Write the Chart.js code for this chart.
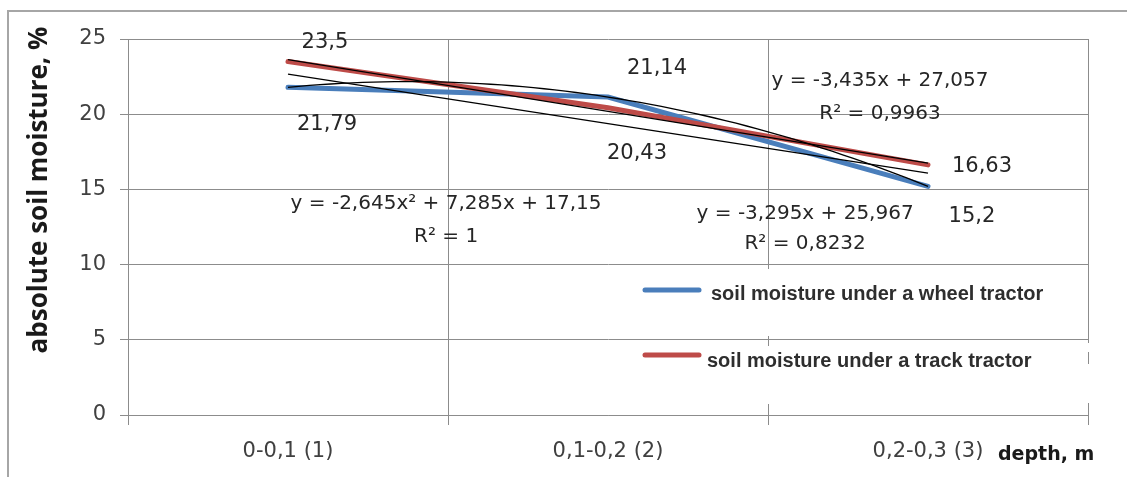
<!DOCTYPE html>
<html><head><meta charset="utf-8">
<script src="https://cdn.jsdelivr.net/npm/chart.js@4/dist/chart.umd.min.js"></script>
<style>html,body{margin:0;padding:0;background:#fff}#wrap{position:relative;width:1127px;height:477px}</style>
</head><body><div id="wrap"><canvas id="c" width="1127" height="477"></canvas></div>
<script>
// ---- data ----
const categories = ['0-0,1 (1)', '0,1-0,2 (2)', '0,2-0,3 (3)'];
const wheelValues = [21.79, 21.14, 15.2];
const trackValues = [23.5, 20.43, 16.63];
const yTickStep = 5, yMin = 0, yMax = 25;
const seriesNames = ['soil moisture under a wheel tractor', 'soil moisture under a track tractor'];
const wheelLabels = ['21,79', '21,14', '15,2'];
const trackLabels = ['23,5', '20,43', '16,63'];
const wheelPolyEq = ['y = -2,645x² + 7,285x + 17,15', 'R² = 1'];
const wheelLinEq = ['y = -3,295x + 25,967', 'R² = 0,8232'];
const trackLinEq = ['y = -3,435x + 27,057', 'R² = 0,9963'];
const xTitle = 'depth, m';
const yTitle = 'absolute soil moisture, %';

// ---- trendlines (least squares fits of the series, as in the source chart) ----
const xs = categories.map((_, i) => i + 1);
function polyFit(x, y, deg) {
  const n = deg + 1, A = [], B = [];
  for (let r = 0; r < n; r++) {
    A.push([]);
    for (let c = 0; c < n; c++) A[r].push(x.reduce((t, v) => t + Math.pow(v, r + c), 0));
    B.push(x.reduce((t, v, i) => t + Math.pow(v, r) * y[i], 0));
  }
  for (let i = 0; i < n; i++) {
    for (let k = i + 1; k < n; k++) {
      const f = A[k][i] / A[i][i];
      for (let j = i; j < n; j++) A[k][j] -= f * A[i][j];
      B[k] -= f * B[i];
    }
  }
  const coef = new Array(n).fill(0);
  for (let i = n - 1; i >= 0; i--) {
    let s = B[i];
    for (let j = i + 1; j < n; j++) s -= A[i][j] * coef[j];
    coef[i] = s / A[i][i];
  }
  return coef;
}
function evalPoly(c, x) { return c.reduce((t, v, i) => t + v * Math.pow(x, i), 0); }
function trendPoints(coef, steps) {
  const pts = [], x0 = xs[0], x1 = xs[xs.length - 1];
  for (let k = 0; k <= steps; k++) { const x = x0 + (x1 - x0) * k / steps; pts.push({x, y: evalPoly(coef, x)}); }
  return pts;
}
const wheelPoly = trendPoints(polyFit(xs, wheelValues, 2), 60);
const wheelLin = trendPoints(polyFit(xs, wheelValues, 1), 1);
const trackLin = trendPoints(polyFit(xs, trackValues, 1), 1);

// ---- styling ----
const BLUE = '#4a7ebb', RED = '#be4b48', GRID = '#8c8c8c', TXT = '#404040';
const numFont = {family: 'DejaVu Sans', size: 21};
const labelOffsets = { wheel: [[39, 37], [49, -29], [44, 30]], track: [[37, -19], [29, 46], [54, 2]] };
const eqAnchors = [
  {lines: wheelPolyEq, x: 1.494, y: 14.05, gap: 33},
  {lines: trackLinEq, x: 2.85, y: 22.22, gap: 33},
  {lines: wheelLinEq, x: 2.616, y: 13.4, gap: 30}
];

const decor = {
  id: 'decor',
  beforeDraw(chart) {
    const c = chart.ctx;
    c.save();
    c.strokeStyle = '#a6a6a6'; c.lineWidth = 2;
    c.beginPath(); c.moveTo(8, 477); c.lineTo(8, 11); c.lineTo(1127, 11); c.stroke();
    c.restore();
  },
  beforeDatasetsDraw(chart) {
    // legend box hides part of the vertical gridlines
    const c = chart.ctx, x = chart.scales.x2;
    c.save(); c.fillStyle = '#fff';
    const g = x.getPixelForValue(2.5);
    c.fillRect(g - 3, 269, 6, 67); c.fillRect(g - 3, 346, 6, 58);
    const r = x.getPixelForValue(3.5);
    c.fillRect(r - 3, 343, 6, 9); c.fillRect(r - 3, 364, 6, 39);
    c.restore();
  },
  afterDraw(chart) {
    const c = chart.ctx, x = chart.scales.x, x2 = chart.scales.x2, y = chart.scales.y;
    c.save();
    c.fillStyle = '#262626'; c.font = '21px "DejaVu Sans"'; c.textAlign = 'center'; c.textBaseline = 'middle';
    wheelValues.forEach((v, i) => {
      const o = labelOffsets.wheel[i];
      c.fillText(wheelLabels[i], x.getPixelForValue(i) + o[0], y.getPixelForValue(v) + o[1]);
    });
    trackValues.forEach((v, i) => {
      const o = labelOffsets.track[i];
      c.fillText(trackLabels[i], x.getPixelForValue(i) + o[0], y.getPixelForValue(v) + o[1]);
    });
    c.font = '20px "DejaVu Sans"';
    eqAnchors.forEach(a => {
      const px = x2.getPixelForValue(a.x), py = y.getPixelForValue(a.y);
      a.lines.forEach((t, k) => c.fillText(t, px, py + k * a.gap));
    });
    // legend
    c.lineCap = 'round'; c.lineWidth = 5;
    c.strokeStyle = BLUE; c.beginPath(); c.moveTo(645, 290); c.lineTo(699, 290); c.stroke();
    c.strokeStyle = RED; c.beginPath(); c.moveTo(645, 355); c.lineTo(699, 355); c.stroke();
    c.fillStyle = '#2e2e2e'; c.font = 'bold 20px "Liberation Sans"'; c.textAlign = 'left';
    c.fillText(seriesNames[0], 711, 294);
    c.fillText(seriesNames[1], 707, 361);
    // axis titles
    c.fillStyle = '#1a1a1a';
    c.font = 'bold 19px "DejaVu Sans"'; c.textAlign = 'left';
    c.fillText(xTitle, 998, 455);
    c.translate(40, 190); c.rotate(-Math.PI / 2);
    c.font = 'bold 26px "Open Sans"'; c.textAlign = 'center';
    c.fillText(yTitle, 0, 0);
    c.restore();
  }
};

new Chart(document.getElementById('c'), {
  type: 'line',
  data: {
    labels: categories,
    datasets: [
      {label: 'poly', data: wheelPoly, xAxisID: 'x2', borderColor: '#000', borderWidth: 1.3, pointRadius: 0, tension: 0, order: 0},
      {label: 'linW', data: wheelLin, xAxisID: 'x2', borderColor: '#000', borderWidth: 1.3, pointRadius: 0, order: 0},
      {label: 'linT', data: trackLin, xAxisID: 'x2', borderColor: '#000', borderWidth: 1.3, pointRadius: 0, order: 0},
      {label: seriesNames[1], data: trackValues, xAxisID: 'x', borderColor: RED, borderWidth: 5, pointRadius: 0, tension: 0, order: 1, borderCapStyle: 'round'},
      {label: seriesNames[0], data: wheelValues, xAxisID: 'x', borderColor: BLUE, borderWidth: 5, pointRadius: 0, tension: 0, order: 2, borderCapStyle: 'round'}
    ]
  },
  options: {
    responsive: false, animation: false, devicePixelRatio: 1,
    layout: {padding: {left: 0, right: 39, top: 39, bottom: 0}},
    plugins: {legend: {display: false}, tooltip: {enabled: false}},
    scales: {
      x: {
        type: 'category', offset: true,
        grid: {offset: true, color: GRID, tickLength: 10, lineWidth: 1},
        border: {color: GRID},
        ticks: {font: numFont, color: TXT, padding: 14, maxRotation: 0},
        afterFit(s) { s.height = 62; }
      },
      x2: {type: 'linear', display: false, min: 0.5, max: 3.5},
      y: {
        min: yMin, max: yMax,
        grid: {color: GRID, tickLength: 8, lineWidth: 1},
        border: {color: GRID},
        ticks: {stepSize: yTickStep, font: numFont, color: TXT, padding: 14},
        afterFit(s) { s.width = 128; }
      }
    }
  },
  plugins: [decor]
});
</script></body></html>
